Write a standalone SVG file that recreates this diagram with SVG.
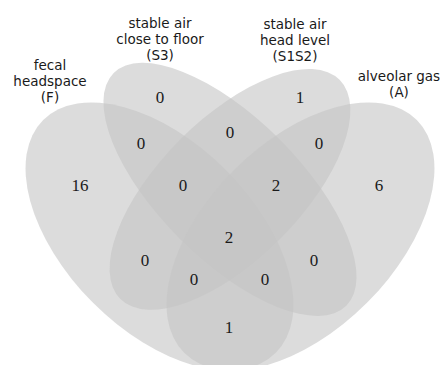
<svg xmlns="http://www.w3.org/2000/svg" width="444" height="365" viewBox="0 0 444 365">
  <style>
    .set { fill: #c4c4c4; fill-opacity: 0.6; stroke: none; }
    .cat { font-family: "DejaVu Sans", sans-serif; font-size: 13.5px; fill: #1a1a1a; text-anchor: middle; }
    .num { font-family: "Liberation Serif", "Times New Roman", serif; font-size: 17px; fill: #1a1a1a; text-anchor: middle; }
  </style>
  <rect width="444" height="365" fill="#ffffff"/>

  <!-- four overlapping sets -->
  <g id="set-F">
    <ellipse class="set" cx="159.5" cy="236.4" rx="164.5" ry="94" transform="rotate(45 159.5 236.4)"/>
  </g>
  <g id="set-S3">
    <ellipse class="set" cx="230" cy="189.4" rx="164.5" ry="70.5" transform="rotate(45 230 189.4)"/>
  </g>
  <g id="set-S1S2">
    <ellipse class="set" cx="230" cy="189.4" rx="155" ry="70.5" transform="rotate(-45 230 189.4)"/>
  </g>
  <g id="set-A">
    <ellipse class="set" cx="300.5" cy="236.4" rx="164.5" ry="94" transform="rotate(-45 300.5 236.4)"/>
  </g>

  <!-- category labels -->
  <g id="label-F" class="cat">
    <text x="50" y="70">fecal</text>
    <text x="50" y="86">headspace</text>
    <text x="50" y="102">(F)</text>
  </g>
  <g id="label-S3" class="cat">
    <text x="160" y="28">stable air</text>
    <text x="160" y="44">close to floor</text>
    <text x="160" y="60">(S3)</text>
  </g>
  <g id="label-S1S2" class="cat">
    <text x="295" y="29">stable air</text>
    <text x="295" y="45">head level</text>
    <text x="295" y="61">(S1S2)</text>
  </g>
  <g id="label-A" class="cat">
    <text x="399" y="81">alveolar gas</text>
    <text x="399" y="97">(A)</text>
  </g>

  <!-- region counts -->
  <g id="counts" class="num">
    <text x="160" y="103">0</text>
    <text x="300" y="103">1</text>
    <text x="141" y="149">0</text>
    <text x="230" y="138">0</text>
    <text x="319" y="149">0</text>
    <text x="80" y="191">16</text>
    <text x="183" y="191">0</text>
    <text x="276" y="191">2</text>
    <text x="379" y="191">6</text>
    <text x="229" y="243">2</text>
    <text x="145" y="266">0</text>
    <text x="194" y="285">0</text>
    <text x="265" y="285">0</text>
    <text x="314" y="266">0</text>
    <text x="229" y="333">1</text>
  </g>
</svg>
